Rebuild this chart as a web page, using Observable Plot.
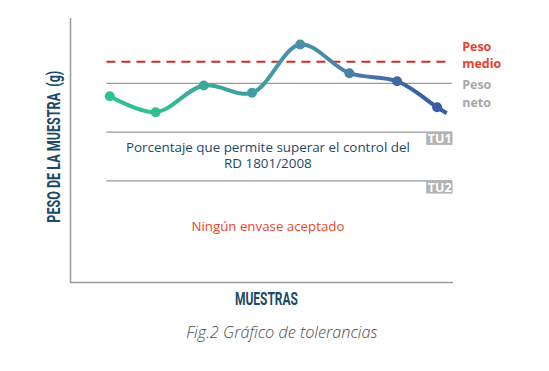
<!DOCTYPE html>
<html>
<head>
<meta charset="utf-8">
<script src="https://cdn.jsdelivr.net/npm/d3@7"></script>
<script src="https://cdn.jsdelivr.net/npm/@observablehq/plot@0.6"></script>
<style>
  body { margin: 0; background: #fff; }
  #chart svg { display: block; }
</style>
</head>
<body>
<div id="chart"></div>
<script>
// ---- data ----
const samples = [1, 1.95, 2.95, 3.95, 4.95, 5.97, 6.96, 7.79];
const weights = [97.64, 94.68, 99.61, 98.26, 107.19, 101.89, 100.41, 95.6];
const tailSample = 7.99;   // the line runs a little past the last dot
const tailWeight = 94.5;

const refNames = ["Peso\nmedio", "Peso\nneto", "TU1", "TU2"];
const refValues = [104, 100, 91, 82];

const noteTexts = ["Porcentaje que permite superar el control del\nRD 1801/2008", "Ningún envase aceptado"];
const noteSamples = [4.28, 4.28];
const noteWeights = [86.86, 73.6];

const xTitle = "MUESTRAS";
const yTitle = "PESO DE LA MUESTRA  (g)";
const caption = "Fig.2 Gráfico de tolerancias";

// ---- styling ----
const dotColors = ["#2fc096", "#34bd93", "#3caa98", "#3f9ea0", "#4a91a8", "#4a7fa8", "#4068a7", "#3b5ba5"];
const xDomain = [0.185, 8.13];
const yDomain = [63.2, 112.0];
const ruleX1 = 0.94, ruleX2 = 8.11, dashX2 = 8.03, labelX = 8.31;

const data = samples.map((s, i) => ({sample: s, weight: weights[i]}));
const lineData = [...data, {sample: tailSample, weight: tailWeight}];
const refs = refNames.map((n, i) => ({name: n, value: refValues[i]}));
const notes = noteTexts.map((t, i) => ({text: t, sample: noteSamples[i], weight: noteWeights[i]}));

const gradient = () => {
  const defs = d3.create("svg:defs");
  const lg = defs.append("linearGradient")
    .attr("id", "lineGrad")
    .attr("x1", 0).attr("x2", 1).attr("y1", 0).attr("y2", 0);
  const span = tailSample - samples[0];
  samples.forEach((s, i) => {
    lg.append("stop").attr("offset", (s - samples[0]) / span).attr("stop-color", dotColors[i]);
  });
  lg.append("stop").attr("offset", 1).attr("stop-color", dotColors[dotColors.length - 1]);
  return defs.node();
};

const font = "'Open Sans', 'Noto Sans', sans-serif";

const chart = Plot.plot({
  width: 549,
  height: 371,
  marginLeft: 70,
  marginRight: 96,
  marginTop: 18,
  marginBottom: 89,
  style: {fontFamily: font, background: "#fff", overflow: "visible"},
  x: {domain: xDomain, axis: null},
  y: {domain: yDomain, axis: null},
  color: {type: "linear", domain: samples, range: dotColors},
  marks: [
    gradient,
    // axes lines
    Plot.ruleX([xDomain[0]], {stroke: "#9a9a9a", strokeWidth: 1.5}),
    Plot.ruleY([yDomain[0]], {stroke: "#9a9a9a", strokeWidth: 1.5}),
    // reference lines
    Plot.ruleY(refs.slice(1), {y: "value", x1: ruleX1, x2: ruleX2, stroke: "#9a9a9a", strokeWidth: 1.2}),
    Plot.ruleY(refs.slice(0, 1), {y: "value", x1: ruleX1, x2: dashX2, stroke: "#d42a2a", strokeWidth: 2, strokeDasharray: "9,6"}),
    // series
    Plot.line(lineData, {x: "sample", y: "weight", curve: "catmull-rom", stroke: "url(#lineGrad)", strokeWidth: 4, strokeLinecap: "butt"}),
    Plot.dot(data, {x: "sample", y: "weight", r: 5, fill: "sample", stroke: "none"}),
    // reference labels
    Plot.text(refs.slice(0, 1), {x: labelX, y: "value", text: "name", textAnchor: "start", lineAnchor: "middle", dy: -7.3, fill: "#e8412c", fontWeight: "bold", fontSize: 12.5, lineHeight: 1.33}),
    Plot.text(refs.slice(1, 2), {x: labelX, y: "value", text: "name", textAnchor: "start", lineAnchor: "middle", dy: 9.1, fill: "#a8a8a8", fontWeight: "bold", fontSize: 12.5, lineHeight: 1.39}),
    Plot.text(refs.slice(2), {x: ruleX2, y: "value", text: "name", textAnchor: "end", lineAnchor: "middle", dx: -1, dy: 7, fill: "#fff", fontWeight: "bold", fontSize: 12.5}),
    // notes
    Plot.text(notes.slice(0, 1), {x: "sample", y: "weight", text: "text", fill: "#1d4a66", fontSize: 13.4, lineHeight: 1.25, lineAnchor: "middle"}),
    Plot.text(notes.slice(1), {x: "sample", y: "weight", text: "text", fill: "#e8462e", fontSize: 13.3, lineAnchor: "middle"}),
    // titles
    Plot.text([yTitle], {frameAnchor: "left", y: 88.3, text: d => d, rotate: -90, dx: -16.5, lineAnchor: "middle", fill: "#1b4a66", fontSize: 18.5, fontWeight: "bold", fontFamily: "Roboto, sans-serif"}),
    Plot.text([xTitle], {frameAnchor: "bottom", x: 4.25, text: d => d, dy: 17, lineAnchor: "middle", fill: "#1b4a66", fontSize: 18.5, fontWeight: "bold", fontFamily: "Roboto, sans-serif"}),
    Plot.text([caption], {frameAnchor: "bottom", x: 4.57, text: d => d, dy: 50, lineAnchor: "middle", fill: "#4d4d4d", fontSize: 16.3, fontStyle: "italic", fontWeight: 300})
  ]
});

document.getElementById("chart").append(chart);

// grey boxes behind TU labels (same transform as the text)
d3.select(chart).selectAll("text").filter(function() {
  return refNames.slice(2).includes(this.textContent);
}).each(function() {
  const b = this.getBBox();
  const cy = b.y + b.height / 2;
  d3.select(this.parentNode).insert("rect", () => this)
    .attr("transform", this.getAttribute("transform"))
    .attr("x", b.x - 1.5).attr("y", cy - 6.3)
    .attr("width", b.width + 2.5).attr("height", 12.6)
    .attr("fill", "#b3b3b3");
});
// condensed axis titles
function condense(label, len) {
  d3.select(chart).selectAll("text").filter(function() { return this.textContent === label; })
    .attr("text-anchor", "start")
    .attr("x", -len / 2)
    .attr("textLength", len)
    .attr("lengthAdjust", "spacingAndGlyphs");
}
condense(yTitle, 152);
condense(xTitle, 63);
</script>
</body>
</html>
